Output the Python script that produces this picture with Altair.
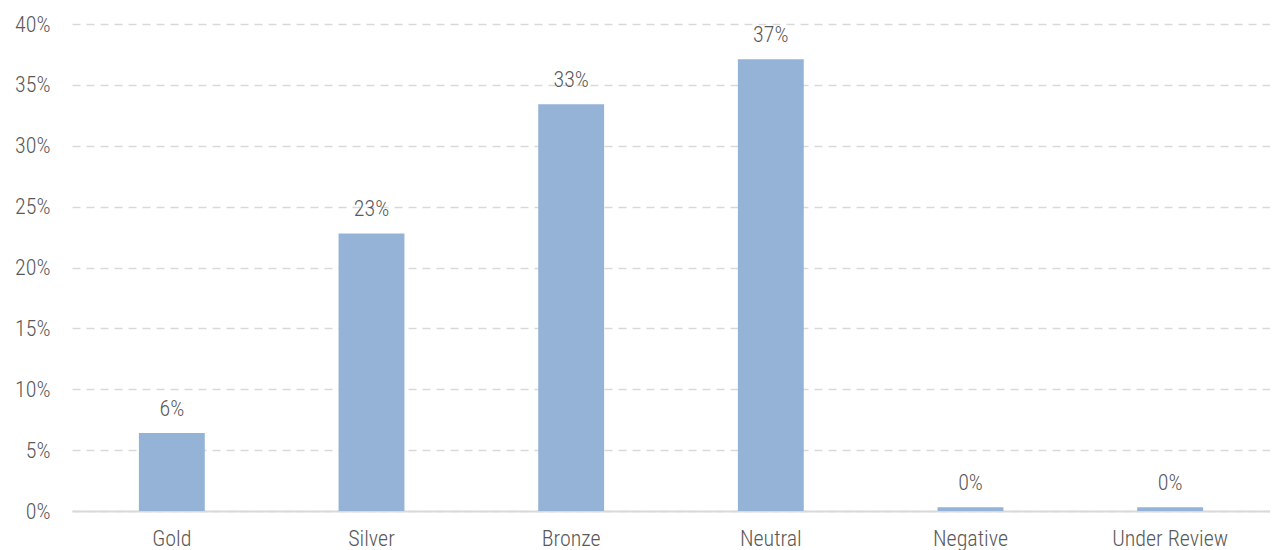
import altair as alt
import pandas as pd

categories = ["Gold", "Silver", "Bronze", "Neutral", "Negative", "Under Review"]
values = [6.4, 22.8, 33.4, 37.1, 0.3, 0.3]
labels = ["6%", "23%", "33%", "37%", "0%", "0%"]
y_ticks = [0, 5, 10, 15, 20, 25, 30, 35, 40]

df = pd.DataFrame({"cat": categories, "val": values, "lab": labels})

FONT = "Roboto Condensed, Liberation Sans Narrow, Arial Narrow, Roboto, sans-serif"
TEXT = "#595959"
FS = 22
FW = 300

x = alt.X("cat:N", sort=categories, title=None,
          scale=alt.Scale(paddingInner=0.67, paddingOuter=0.335),
          axis=alt.Axis(labelAngle=0, labelFont=FONT, labelFontSize=FS, labelFontWeight=FW,
                        labelColor=TEXT, labelPadding=17, ticks=False, domainColor="#D9D9D9",
                        domainWidth=2, grid=False))

bars = alt.Chart(df).mark_bar(color="#95B3D7").encode(
    x=x,
    y=alt.Y("val:Q", title=None,
            scale=alt.Scale(domain=[0, 40], nice=False),
            axis=alt.Axis(values=y_ticks, labelExpr="datum.value + '%'", labelFont=FONT,
                          labelFontSize=FS, labelFontWeight=FW, labelColor=TEXT, labelPadding=22,
                          ticks=False, domain=False, grid=True, gridColor="#D9D9D9",
                          gridDash=[8, 6], gridWidth=1.3)),
)

text = alt.Chart(df).mark_text(baseline="bottom", dy=-12, font=FONT, fontSize=FS,
                               fontWeight=FW, color=TEXT).encode(
    x=alt.X("cat:N", sort=categories),
    y="val:Q",
    text="lab:N",
)

chart = (bars + text).properties(
    width=1198, height=487,
    autosize=alt.AutoSizeParams(type="none"),
    padding={"left": 64, "top": 16, "right": 0, "bottom": 40},
).configure_view(stroke=None)

chart.save("out.html", embed_options={"renderer": "svg", "actions": False})
